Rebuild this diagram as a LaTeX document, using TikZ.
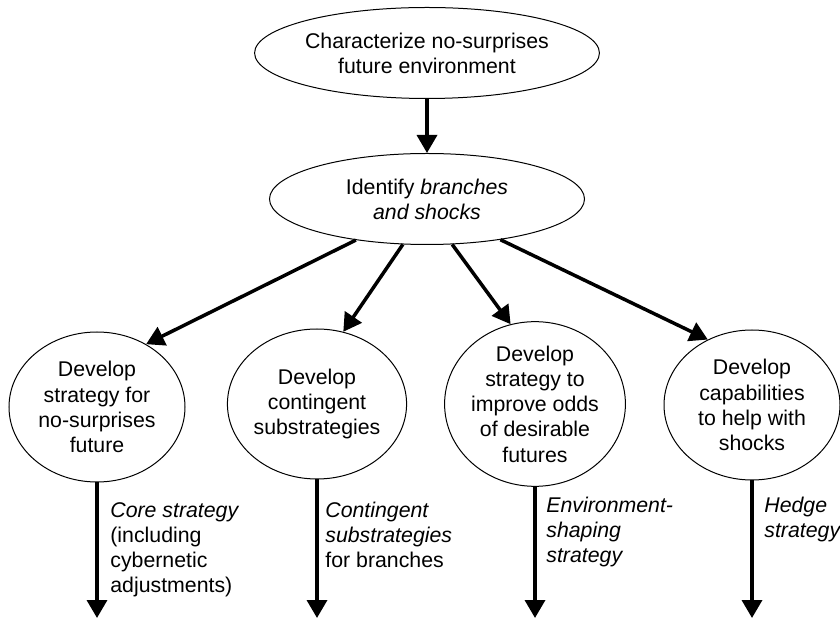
\documentclass[tikz,border=0pt]{standalone}
\usepackage{fontspec}
\setmainfont{Liberation Sans}
\usetikzlibrary{shapes.geometric,arrows.meta}
\begin{document}
\begin{tikzpicture}[x=0.5pt,y=-0.5pt,
  txt/.style={font=\fontsize{10.65}{12.6}\selectfont},
  oval/.style={txt, draw, ellipse, line width=0.5pt, inner sep=0pt, align=center},
  topoval/.style={oval, minimum width=157.5pt, minimum height=45.5pt},
  circ/.style={oval, minimum width=88pt, minimum height=75pt},
  arr/.style={line width=1.75pt, -{Triangle[width=10pt,length=9pt]}},
  lab/.style={font=\fontsize{10.65}{12.5}\selectfont, anchor=north west, align=left, inner sep=0pt}]
\useasboundingbox (0,0) rectangle (840,619);

\node[topoval] (top) at (427,53) {Characterize no-surprises\\future environment};
\node[topoval] (mid) at (427,199) {Identify \textit{branches}\\\textit{and shocks}};

\node[circ] (c1) at (97,407) {Develop\\strategy for\\no-surprises\\future};
\node[circ] (c2) at (317,404) {Develop\\contingent\\substrategies};
\node[circ] (c3) at (535,404) {Develop\\strategy to\\improve odds\\of desirable\\futures};
\node[circ] (c4) at (752,405) {Develop\\capabilities\\to help with\\shocks};

\draw[arr] (top) -- (mid);
\draw[arr] (mid.210) -- (c1.52);
\draw[arr] (mid.242) -- (c2.70);
\draw[arr] (mid.299) -- (c3.107);
\draw[arr] (mid.331) -- (c4.124);

\coordinate (e1) at (97,618);
\coordinate (e2) at (317,618);
\coordinate (e3) at (535,618);
\coordinate (e4) at (752,618);
\draw[arr] (c1) -- (e1);
\draw[arr] (c2) -- (e2);
\draw[arr] (c3) -- (e3);
\draw[arr] (c4) -- (e4);

\node[lab] (l1) at (110,502) {\textit{Core strategy}\\(including\\cybernetic\\adjustments)};
\node[lab] (l2) at (325,502) {\textit{Contingent}\\\textit{substrategies}\\for branches};
\node[lab] (l3) at (546,497) {\textit{Environment-}\\\textit{shaping}\\\textit{strategy}};
\node[lab] (l4) at (764,497) {\textit{Hedge}\\\textit{strategy}};
\end{tikzpicture}
\end{document}
